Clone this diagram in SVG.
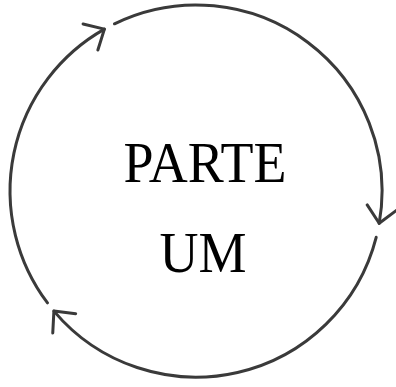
<svg xmlns="http://www.w3.org/2000/svg" width="396" height="387" viewBox="0 0 396 387">
  <style>
    .arc { fill: none; stroke: #3a3a3a; stroke-width: 3; stroke-linecap: round; marker-end: url(#head); }
    .lbl { font-family: "Liberation Serif", "Times New Roman", serif; font-size: 54px; fill: #000; text-anchor: middle; }
  </style>
  <defs>
    <marker id="head" markerUnits="userSpaceOnUse" markerWidth="40" markerHeight="40" refX="0" refY="0" viewBox="-20 -20 40 40" orient="auto" overflow="visible">
      <path d="M -16 -15 L 0 0 L -16 15" fill="none" stroke="#3a3a3a" stroke-width="3" stroke-linecap="round" stroke-linejoin="round"/>
    </marker>
  </defs>
  <rect width="396" height="387" fill="#fff"/>
  <g id="connectors">
    <path class="arc" d="M 114.5 23.8 A 186 186 0 0 1 379.2 223.3"/>
    <path class="arc" d="M 376.2 237.3 A 186 186 0 0 1 53.9 311.1"/>
    <path class="arc" d="M 47.5 302.9 A 186 186 0 0 1 104.4 29.1"/>
  </g>
  <g id="label">
    <text class="lbl" transform="translate(205,182) scale(1,1.07)">PARTE</text>
    <text class="lbl" transform="translate(203,272) scale(1,1.07)">UM</text>
  </g>
</svg>
